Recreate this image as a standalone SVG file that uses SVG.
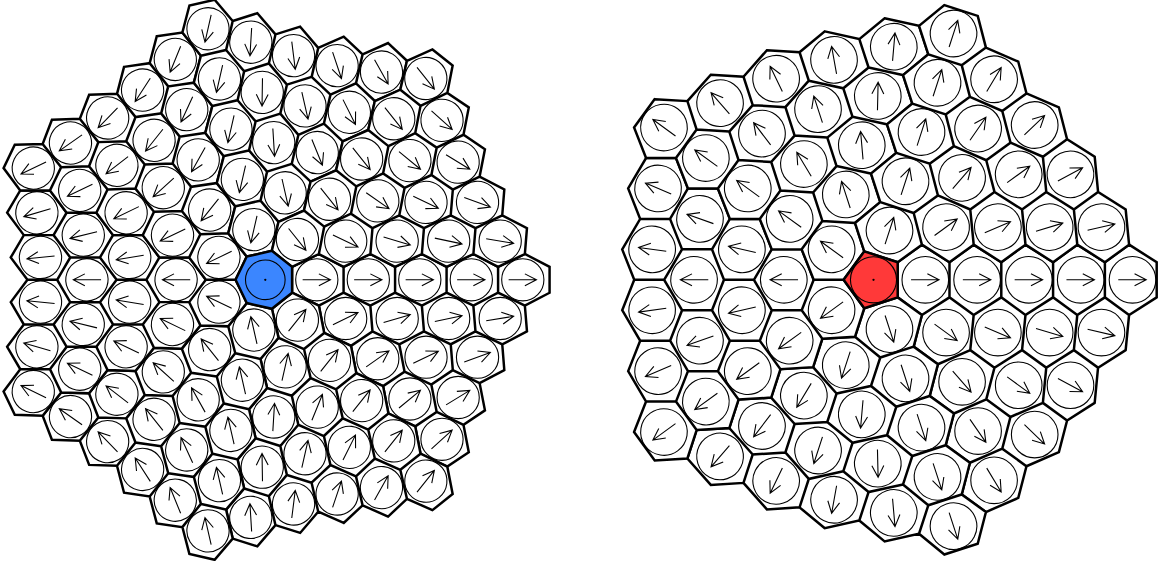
<svg xmlns="http://www.w3.org/2000/svg" width="1162" height="561" viewBox="0 0 1162 561">
<style>
.h{fill:#fff;stroke:#000;stroke-width:.048}
.c{fill:none;stroke:#000;stroke-width:.021}
.a{fill:none;stroke:#000;stroke-width:.021}
</style>
<defs>
<path id="ar" class="a" d="M-.275 0H.265M.04-.115L.265 0L.04 .115"/>
<path id="hL" class="h" d="M1.52 .251L1.04 .501L.52 .251L.52-.251L1.04-.501L1.52-.251Z M2.52 .251L2.04 .501L1.52 .251L1.52-.251L2.04-.501L2.52-.251Z M3.52 .251L3.04 .501L2.52 .251L2.52-.251L3.04-.501L3.52-.251Z M4.52 .251L4.04 .501L3.52 .251L3.52-.251L4.04-.501L4.52-.251Z M5.52 .251L5.04 .501L4.52 .251L4.52-.251L5.04-.501L5.52-.251Z M2.081 1.002L1.664 1.283L1.144 1.032L1.04 .501L1.52 .251L2.04 .501Z M3.081 1.002L2.601 1.253L2.081 1.002L2.04 .501L2.52 .251L3.04 .501Z M4.081 1.002L3.601 1.253L3.081 1.002L3.04 .501L3.52 .251L4.04 .501Z M5.081 1.002L4.601 1.253L4.081 1.002L4.04 .501L4.52 .251L5.04 .501Z M3.641 1.754L3.224 2.034L2.704 1.784L2.601 1.253L3.081 1.002L3.601 1.253Z M4.641 1.754L4.161 2.004L3.641 1.754L3.601 1.253L4.081 1.002L4.601 1.253Z M2.704 1.784L2.287 2.065L1.767 1.814L1.664 1.283L2.081 1.002L2.601 1.253Z M3.328 2.566L2.911 2.847L2.391 2.596L2.287 2.065L2.704 1.784L3.224 2.034Z M3.951 3.348L3.534 3.628L3.014 3.378L2.911 2.847L3.328 2.566L3.848 2.816Z M4.265 2.535L3.848 2.816L3.328 2.566L3.224 2.034L3.641 1.754L4.161 2.004Z"/>
<path id="hR" class="h" d="M1.467 .339L.934 .679L.467 .339L.467-.339L.934-.679L1.467-.339Z M2.467 .339L1.934 .679L1.467 .339L1.467-.339L1.934-.679L2.467-.339Z M3.467 .339L2.934 .679L2.467 .339L2.467-.339L2.934-.679L3.467-.339Z M4.467 .339L3.934 .679L3.467 .339L3.467-.339L3.934-.679L4.467-.339Z M5.467 .339L4.934 .679L4.467 .339L4.467-.339L4.934-.679L5.467-.339Z M1.868 1.357L1.243 1.63L.776 1.29L.934 .679L1.467 .339L1.934 .679Z M2.868 1.357L2.335 1.697L1.868 1.357L1.934 .679L2.467 .339L2.934 .679Z M3.868 1.357L3.335 1.697L2.868 1.357L2.934 .679L3.467 .339L3.934 .679Z M4.868 1.357L4.335 1.697L3.868 1.357L3.934 .679L4.467 .339L4.934 .679Z M3.27 2.376L2.644 2.648L2.177 2.308L2.335 1.697L2.868 1.357L3.335 1.697Z M4.27 2.376L3.737 2.715L3.27 2.376L3.335 1.697L3.868 1.357L4.335 1.697Z M2.177 2.308L1.552 2.581L1.085 2.241L1.243 1.63L1.868 1.357L2.335 1.697Z M2.486 3.26L1.861 3.532L1.394 3.193L1.552 2.581L2.177 2.308L2.644 2.648Z M2.795 4.211L2.17 4.483L1.703 4.144L1.861 3.532L2.486 3.26L2.953 3.599Z M3.579 3.327L2.953 3.599L2.486 3.26L2.644 2.648L3.27 2.376L3.737 2.715Z"/>
<g id="cL" class="c">
<circle cx="1" cy="0" r=".41"/><circle cx="2" cy="0" r=".41"/><circle cx="3" cy="0" r=".41"/><circle cx="4" cy="0" r=".41"/><circle cx="5" cy="0" r=".41"/>
<circle cx="1.561" cy=".752" r=".41"/><circle cx="2.561" cy=".752" r=".41"/><circle cx="3.561" cy=".752" r=".41"/><circle cx="4.561" cy=".752" r=".41"/>
<circle cx="3.121" cy="1.503" r=".41"/><circle cx="4.121" cy="1.503" r=".41"/>
<circle cx="2.184" cy="1.533" r=".41"/><circle cx="2.808" cy="2.315" r=".41"/><circle cx="3.431" cy="3.097" r=".41"/><circle cx="3.745" cy="2.285" r=".41"/>
</g>
<g id="cR">
<g class="c">
<circle cx="1" cy="0" r=".45"/><circle cx="2" cy="0" r=".45"/><circle cx="3" cy="0" r=".45"/><circle cx="4" cy="0" r=".45"/><circle cx="5" cy="0" r=".45"/>
<circle cx="1.401" cy="1.018" r=".45"/><circle cx="2.401" cy="1.018" r=".45"/><circle cx="3.401" cy="1.018" r=".45"/><circle cx="4.401" cy="1.018" r=".45"/>
<circle cx="2.803" cy="2.036" r=".45"/><circle cx="3.803" cy="2.036" r=".45"/>
<circle cx="1.71" cy="1.969" r=".45"/><circle cx="2.019" cy="2.92" r=".45"/><circle cx="2.328" cy="3.871" r=".45"/><circle cx="3.112" cy="2.987" r=".45"/>
</g>
<use href="#ar" transform="translate(1 0)"/><use href="#ar" transform="translate(2 0)"/><use href="#ar" transform="translate(3 0)"/><use href="#ar" transform="translate(4 0)"/><use href="#ar" transform="translate(5 0)"/>
<use href="#ar" transform="translate(1.401 1.018)rotate(36)"/><use href="#ar" transform="translate(2.401 1.018)rotate(22.98)"/><use href="#ar" transform="translate(3.401 1.018)rotate(16.66)"/><use href="#ar" transform="translate(4.401 1.018)rotate(13.02)"/>
<use href="#ar" transform="translate(2.803 2.036)rotate(36)"/><use href="#ar" transform="translate(3.803 2.036)rotate(28.17)"/>
<use href="#ar" transform="translate(1.71 1.969)rotate(49.02)"/><use href="#ar" transform="translate(2.019 2.92)rotate(55.34)"/><use href="#ar" transform="translate(2.328 3.871)rotate(58.98)"/><use href="#ar" transform="translate(3.112 2.987)rotate(43.83)"/>
</g>
</defs>
<rect width="1162" height="561" fill="#fff"/>

<g id="heptagon-lattice" transform="translate(265.3 279.8) scale(51.5)">
<g id="left-cells">
<use href="#hL"/>
<use href="#hL" transform="rotate(51.4286)"/>
<use href="#hL" transform="rotate(102.857)"/>
<use href="#hL" transform="rotate(154.286)"/>
<use href="#hL" transform="rotate(205.714)"/>
<use href="#hL" transform="rotate(257.143)"/>
<use href="#hL" transform="rotate(308.571)"/>
</g>
<g id="left-center">
<path d="M.52 .251L.128 .563L-.36 .451L-.577 0L-.36-.451L.128-.563L.52-.251Z" fill="#3b86ff" stroke="#000" stroke-width=".048"/>
<circle r=".385" class="c"/>
<circle r=".022" fill="#000"/>
</g>
<g id="left-circles">
<use href="#cL"/>
<use href="#cL" transform="rotate(51.4286)"/>
<use href="#cL" transform="rotate(102.857)"/>
<use href="#cL" transform="rotate(154.286)"/>
<use href="#cL" transform="rotate(205.714)"/>
<use href="#cL" transform="rotate(257.143)"/>
<use href="#cL" transform="rotate(308.571)"/>
</g>
<g id="left-arrows">
<g>
<use href="#ar" transform="translate(1 0)"/><use href="#ar" transform="translate(2 0)"/><use href="#ar" transform="translate(3 0)"/><use href="#ar" transform="translate(4 0)"/><use href="#ar" transform="translate(5 0)"/>
<use href="#ar" transform="translate(1.561 .752)rotate(-25.71)"/><use href="#ar" transform="translate(2.561 .752)rotate(-16.36)"/><use href="#ar" transform="translate(3.561 .752)rotate(-11.92)"/><use href="#ar" transform="translate(4.561 .752)rotate(-9.36)"/>
<use href="#ar" transform="translate(3.121 1.503)rotate(-25.71)"/><use href="#ar" transform="translate(4.121 1.503)rotate(-20.04)"/>
<use href="#ar" transform="translate(2.184 1.533)rotate(-35.07)"/><use href="#ar" transform="translate(2.808 2.315)rotate(-39.51)"/><use href="#ar" transform="translate(3.431 3.097)rotate(-42.07)"/><use href="#ar" transform="translate(3.745 2.285)rotate(-31.39)"/>
</g>
<g transform="rotate(51.4286)">
<use href="#ar" transform="translate(1 0)rotate(-102.86)"/><use href="#ar" transform="translate(2 0)rotate(-102.86)"/><use href="#ar" transform="translate(3 0)rotate(-102.86)"/><use href="#ar" transform="translate(4 0)rotate(-102.86)"/><use href="#ar" transform="translate(5 0)rotate(-102.86)"/>
<use href="#ar" transform="translate(1.561 .752)rotate(-128.57)"/><use href="#ar" transform="translate(2.561 .752)rotate(-119.22)"/><use href="#ar" transform="translate(3.561 .752)rotate(-114.78)"/><use href="#ar" transform="translate(4.561 .752)rotate(-112.22)"/>
<use href="#ar" transform="translate(3.121 1.503)rotate(-128.57)"/><use href="#ar" transform="translate(4.121 1.503)rotate(-122.9)"/>
<use href="#ar" transform="translate(2.184 1.533)rotate(-137.93)"/><use href="#ar" transform="translate(2.808 2.315)rotate(-142.37)"/><use href="#ar" transform="translate(3.431 3.097)rotate(-144.93)"/><use href="#ar" transform="translate(3.745 2.285)rotate(-134.25)"/>
</g>
<g transform="rotate(102.857)">
<use href="#ar" transform="translate(1 0)rotate(-205.71)"/><use href="#ar" transform="translate(2 0)rotate(-205.71)"/><use href="#ar" transform="translate(3 0)rotate(-205.71)"/><use href="#ar" transform="translate(4 0)rotate(-205.71)"/><use href="#ar" transform="translate(5 0)rotate(-205.71)"/>
<use href="#ar" transform="translate(1.561 .752)rotate(-231.43)"/><use href="#ar" transform="translate(2.561 .752)rotate(-222.07)"/><use href="#ar" transform="translate(3.561 .752)rotate(-217.63)"/><use href="#ar" transform="translate(4.561 .752)rotate(-215.07)"/>
<use href="#ar" transform="translate(3.121 1.503)rotate(-231.43)"/><use href="#ar" transform="translate(4.121 1.503)rotate(-225.75)"/>
<use href="#ar" transform="translate(2.184 1.533)rotate(-240.78)"/><use href="#ar" transform="translate(2.808 2.315)rotate(-245.22)"/><use href="#ar" transform="translate(3.431 3.097)rotate(-247.78)"/><use href="#ar" transform="translate(3.745 2.285)rotate(-237.1)"/>
</g>
<g transform="rotate(154.286)">
<use href="#ar" transform="translate(1 0)rotate(-308.57)"/><use href="#ar" transform="translate(2 0)rotate(-308.57)"/><use href="#ar" transform="translate(3 0)rotate(-308.57)"/><use href="#ar" transform="translate(4 0)rotate(-308.57)"/><use href="#ar" transform="translate(5 0)rotate(-308.57)"/>
<use href="#ar" transform="translate(1.561 .752)rotate(-334.29)"/><use href="#ar" transform="translate(2.561 .752)rotate(-324.93)"/><use href="#ar" transform="translate(3.561 .752)rotate(-320.49)"/><use href="#ar" transform="translate(4.561 .752)rotate(-317.93)"/>
<use href="#ar" transform="translate(3.121 1.503)rotate(-334.29)"/><use href="#ar" transform="translate(4.121 1.503)rotate(-328.61)"/>
<use href="#ar" transform="translate(2.184 1.533)rotate(-343.64)"/><use href="#ar" transform="translate(2.808 2.315)rotate(-348.08)"/><use href="#ar" transform="translate(3.431 3.097)rotate(-350.64)"/><use href="#ar" transform="translate(3.745 2.285)rotate(-339.96)"/>
</g>
<g transform="rotate(205.714)">
<use href="#ar" transform="translate(1 0)rotate(-51.43)"/><use href="#ar" transform="translate(2 0)rotate(-51.43)"/><use href="#ar" transform="translate(3 0)rotate(-51.43)"/><use href="#ar" transform="translate(4 0)rotate(-51.43)"/><use href="#ar" transform="translate(5 0)rotate(-51.43)"/>
<use href="#ar" transform="translate(1.561 .752)rotate(-77.14)"/><use href="#ar" transform="translate(2.561 .752)rotate(-67.79)"/><use href="#ar" transform="translate(3.561 .752)rotate(-63.35)"/><use href="#ar" transform="translate(4.561 .752)rotate(-60.79)"/>
<use href="#ar" transform="translate(3.121 1.503)rotate(-77.14)"/><use href="#ar" transform="translate(4.121 1.503)rotate(-71.47)"/>
<use href="#ar" transform="translate(2.184 1.533)rotate(-86.5)"/><use href="#ar" transform="translate(2.808 2.315)rotate(-90.94)"/><use href="#ar" transform="translate(3.431 3.097)rotate(-93.5)"/><use href="#ar" transform="translate(3.745 2.285)rotate(-82.82)"/>
</g>
<g transform="rotate(257.143)">
<use href="#ar" transform="translate(1 0)rotate(-154.29)"/><use href="#ar" transform="translate(2 0)rotate(-154.29)"/><use href="#ar" transform="translate(3 0)rotate(-154.29)"/><use href="#ar" transform="translate(4 0)rotate(-154.29)"/><use href="#ar" transform="translate(5 0)rotate(-154.29)"/>
<use href="#ar" transform="translate(1.561 .752)rotate(-180)"/><use href="#ar" transform="translate(2.561 .752)rotate(-170.65)"/><use href="#ar" transform="translate(3.561 .752)rotate(-166.21)"/><use href="#ar" transform="translate(4.561 .752)rotate(-163.65)"/>
<use href="#ar" transform="translate(3.121 1.503)rotate(-180)"/><use href="#ar" transform="translate(4.121 1.503)rotate(-174.33)"/>
<use href="#ar" transform="translate(2.184 1.533)rotate(-189.36)"/><use href="#ar" transform="translate(2.808 2.315)rotate(-193.8)"/><use href="#ar" transform="translate(3.431 3.097)rotate(-196.36)"/><use href="#ar" transform="translate(3.745 2.285)rotate(-185.68)"/>
</g>
<g transform="rotate(308.571)">
<use href="#ar" transform="translate(1 0)rotate(-257.14)"/><use href="#ar" transform="translate(2 0)rotate(-257.14)"/><use href="#ar" transform="translate(3 0)rotate(-257.14)"/><use href="#ar" transform="translate(4 0)rotate(-257.14)"/><use href="#ar" transform="translate(5 0)rotate(-257.14)"/>
<use href="#ar" transform="translate(1.561 .752)rotate(-282.86)"/><use href="#ar" transform="translate(2.561 .752)rotate(-273.5)"/><use href="#ar" transform="translate(3.561 .752)rotate(-269.06)"/><use href="#ar" transform="translate(4.561 .752)rotate(-266.5)"/>
<use href="#ar" transform="translate(3.121 1.503)rotate(-282.86)"/><use href="#ar" transform="translate(4.121 1.503)rotate(-277.18)"/>
<use href="#ar" transform="translate(2.184 1.533)rotate(-292.21)"/><use href="#ar" transform="translate(2.808 2.315)rotate(-296.65)"/><use href="#ar" transform="translate(3.431 3.097)rotate(-299.21)"/><use href="#ar" transform="translate(3.745 2.285)rotate(-288.53)"/>
</g>
</g>
</g>

<g id="pentagon-lattice" transform="translate(873.5 279.8) scale(51.8)">
<g id="right-cells">
<use href="#hR"/>
<use href="#hR" transform="rotate(72)"/>
<use href="#hR" transform="rotate(144)"/>
<use href="#hR" transform="rotate(216)"/>
<use href="#hR" transform="rotate(288)"/>
</g>
<g id="right-center">
<path d="M.467 .339L-.178 .549L-.577 0L-.178-.549L.467-.339Z" fill="#ff3939" stroke="#000" stroke-width=".048"/>
<circle r=".445" class="c"/>
<circle r=".022" fill="#000"/>
</g>
<g id="right-circles-arrows">
<use href="#cR"/>
<use href="#cR" transform="rotate(72)"/>
<use href="#cR" transform="rotate(144)"/>
<use href="#cR" transform="rotate(216)"/>
<use href="#cR" transform="rotate(288)"/>
</g>
</g>
</svg>
